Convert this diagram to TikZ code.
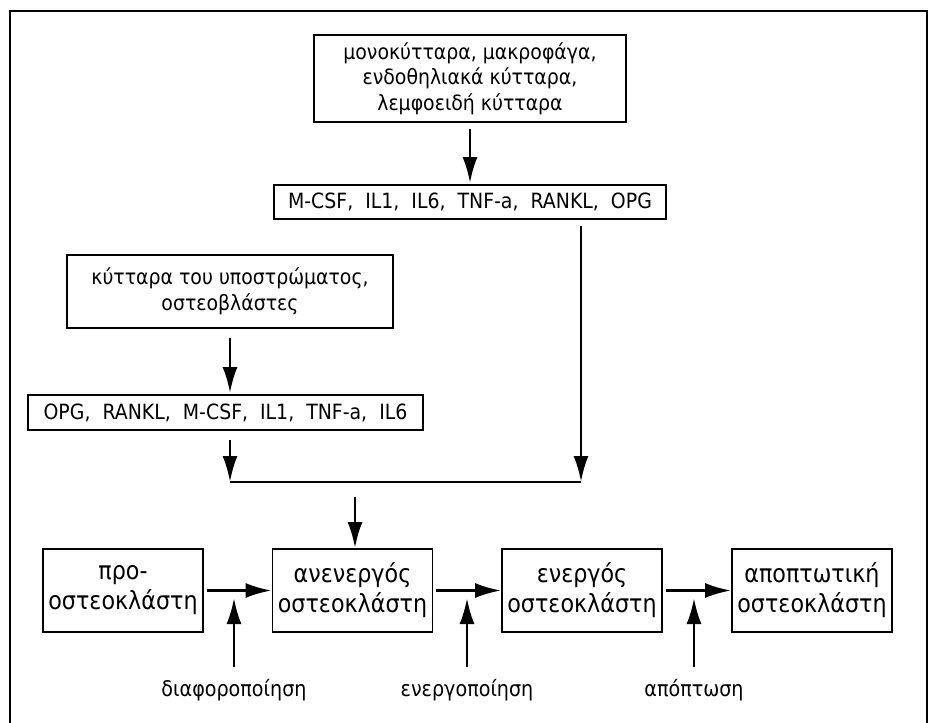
\documentclass[tikz,border=0pt]{standalone}
\usepackage{fontspec}
\setmainfont[FakeStretch=0.9]{DejaVu Sans}
\newfontfamily\narrowfont[FakeStretch=0.89]{DejaVu Sans}
\usetikzlibrary{arrows.meta,calc}
\tikzset{
  topbox/.style={draw, line width=1.8pt, align=center, inner sep=0pt,
     font=\fontsize{21}{25.5}\selectfont},
  lowbox/.style={draw, line width=1.8pt, align=center, inner sep=0pt,
     minimum width=160pt, minimum height=83pt,
     font=\narrowfont\fontsize{25}{30}\selectfont},
  lbl/.style={font=\narrowfont\fontsize{21.5}{26}\selectfont, inner sep=0pt},
  arr/.style={line width=2.8pt, -{Latex[length=26pt,width=15pt]}},
  ln/.style={line width=2.8pt},
}
\begin{document}
\begin{tikzpicture}[x=1pt,y=-1pt]
\useasboundingbox (0,0) rectangle (930,723);
\draw[line width=2.8pt] (10,730) -- (10,11) -- (927,11) -- (927,730);

\node[topbox, minimum width=312pt, minimum height=87pt] (A) at (470,78.5)
  {μονοκύτταρα, μακροφάγα,\\ ενδοθηλιακά κύτταρα,\\ λεμφοειδή κύτταρα};
\node[topbox, minimum width=392pt, minimum height=34pt] (B) at (470,202)
  {M-CSF,\ \ IL1,\ \ IL6,\ \ TNF-a,\ \ RANKL,\ \ OPG};
\node[topbox, minimum width=326pt, minimum height=73pt] (C) at (230,291.5)
  {κύτταρα του υποστρώματος,\\ οστεοβλάστες};
\node[topbox, minimum width=395pt, minimum height=35pt] (D) at (225.5,412.5)
  {OPG,\ \ RANKL,\ \ M-CSF,\ \ IL1,\ \ TNF-a,\ \ IL6};

\node[lowbox] (E1) at (123,590.5) {προ-\\ οστεοκλάστη};
\node[lowbox] (E2) at (352.5,590.5) {ανενεργός\\ οστεοκλάστη};
\node[lowbox] (E3) at (582,590.5) {ενεργός\\ οστεοκλάστη};
\node[lowbox] (E4) at (812,590.5) {αποπτωτική\\ οστεοκλάστη};

\node[lbl] (L1) at (234,690) {διαφοροποίηση};
\node[lbl] (L2) at (467,690) {ενεργοποίηση};
\node[lbl] (L3) at (694,690) {απόπτωση};

\coordinate (jl) at (230,482);
\coordinate (jr) at (581,482);
\coordinate (dtop) at (355,497);
\coordinate (u1) at (234,598);
\coordinate (u2) at (467,598);
\coordinate (u3) at (694,598);

\draw[arr] ($(A.south)+(0,6)$) -- ($(B.north)+(0,-1)$);
\draw[arr] ($(B.south -| jr)+(0,6)$) -- (jr);
\draw[arr] ($(C.south)+(0,9)$) -- ($(D.north -| C.south)+(0,-1)$);
\draw[arr] ($(D.south -| jl)+(0,9)$) -- (jl);
\draw[ln] (jl) -- (jr);
\draw[arr] (dtop) -- (E2.north -| dtop);

\draw[arr] ($(E1.east)+(3,0)$) -- (E2.west);
\draw[arr] ($(E2.east)+(3,0)$) -- (E3.west);
\draw[arr] ($(E3.east)+(3,0)$) -- (E4.west);

\draw[arr] ($(L1.north)+(0,-12)$) -- (u1);
\draw[arr] ($(L2.north)+(0,-12)$) -- (u2);
\draw[arr] ($(L3.north)+(0,-12)$) -- (u3);
\end{tikzpicture}
\end{document}
